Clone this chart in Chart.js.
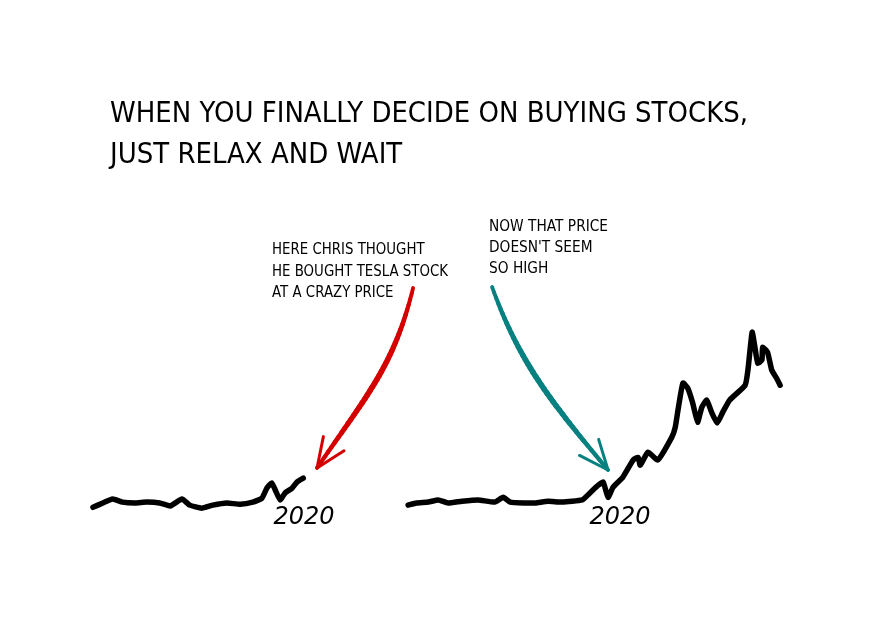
<!DOCTYPE html>
<html><head><meta charset="utf-8">
<script src="https://cdn.jsdelivr.net/npm/chart.js@4"></script>
<style>
html,body{margin:0;padding:0;background:#fff;}
#wrap{position:relative;width:876px;height:618px;overflow:hidden;background:#fff;}
canvas{position:absolute;left:0;top:0;}
.txt{position:absolute;font-family:"DejaVu Sans",sans-serif;color:#000;white-space:nowrap;transform-origin:0 0;}
.txt span{display:block;width:max-content;}
</style></head><body>
<div id="wrap">
<canvas id="c1" width="876" height="618"></canvas>
<canvas id="c2" width="876" height="618"></canvas>
<div id="title" class="txt" style="left:110px;top:92px;font-size:27.5px;line-height:41px;"><span>WHEN YOU FINALLY DECIDE ON BUYING STOCKS,</span><span>JUST RELAX AND WAIT</span></div>
<div id="ann1" class="txt" style="left:272px;top:238px;font-size:16px;line-height:21.5px;"><span>HERE CHRIS THOUGHT</span><span>HE BOUGHT TESLA STOCK</span><span>AT A CRAZY PRICE</span></div>
<div id="ann2" class="txt" style="left:489px;top:215px;font-size:16px;line-height:21px;"><span>NOW THAT PRICE</span><span>DOESN'T SEEM</span><span>SO HIGH</span></div>
</div>
<script>
// ---- data (year, split-adjusted price in USD) ----
const tickYears = [2020];

const leftYears  = [2016.99,2017.13,2017.27,2017.41,2017.59,2017.76,2017.94,2018.09,2018.26,2018.37,2018.54,2018.70,2018.90,2019.09,2019.27,2019.40,2019.47,2019.54,2019.59,2019.66,2019.73,2019.83,2019.90,2019.99];
const leftPrices = [12,22,31,24,22,24,22,15,31,17,10,17,22,19,24,33,56,68,52,29,45,56,70,79];

const rightYears  = [2016.97,2017.09,2017.26,2017.40,2017.54,2017.74,2017.97,2018.21,2018.33,2018.43,2018.64,2018.79,2018.97,2019.17,2019.46,2019.57,2019.69,2019.76,2019.83,2019.90,2020.04,2020.19,2020.26,2020.29,2020.40,2020.54,2020.74,2020.79,2020.83,2020.90,2020.97,2021.04,2021.11,2021.17,2021.24,2021.31,2021.39,2021.47,2021.57,2021.79,2021.83,2021.89,2021.93,2021.97,2022.03,2022.04,2022.11,2022.17,2022.24,2022.29];
const rightPrices = [17,22,24,29,22,26,29,24,35,24,22,22,26,24,29,45,63,70,35,58,81,121,127,109,139,121,173,196,236,298,286,252,208,242,259,231,206,231,259,293,328,415,380,344,351,380,369,328,309,293];

// annotation arrows: start, control 1, control 2, end (year, price)
const redArrowYears   = [2021.557,2021.283,2020.913,2020.186];
const redArrowPrices  = [516.7,338.1,273.2,102.5];
const tealArrowYears  = [2018.171,2018.560,2019.001,2019.829];
const tealArrowPrices = [519.0,346.0,256.7,97.9];

const arrowPlugin = {
  id:'curvedArrow',
  afterDatasetsDraw(chart, args, o){
    if(!o || !o.years) return;
    const ctx = chart.ctx, xs = chart.scales.x, ys = chart.scales.y;
    const P = o.years.map((v,i)=>[xs.getPixelForValue(v), ys.getPixelForValue(o.prices[i])]);
    const bez = t => {
      const u=1-t;
      return [u*u*u*P[0][0]+3*u*u*t*P[1][0]+3*u*t*t*P[2][0]+t*t*t*P[3][0],
              u*u*u*P[0][1]+3*u*u*t*P[1][1]+3*u*t*t*P[2][1]+t*t*t*P[3][1]];
    };
    ctx.save();
    ctx.strokeStyle = o.color; ctx.lineCap='round'; ctx.lineJoin='round';
    const N=40;
    for(let i=0;i<N;i++){
      const t0=i/N, t1=(i+1)/N;
      const a=bez(t0), b=bez(t1);
      ctx.lineWidth = 3 + 2.6*Math.sin(Math.PI*(t0*0.8+0.1));
      ctx.beginPath(); ctx.moveTo(a[0],a[1]); ctx.lineTo(b[0],b[1]); ctx.stroke();
    }
    const E=P[3], C=P[2];
    let dx=C[0]-E[0], dy=C[1]-E[1]; const L=Math.hypot(dx,dy); dx/=L; dy/=L;
    const ang=Math.atan2(dy,dx), spread=23*Math.PI/180, len=32;
    ctx.lineWidth=3;
    [ang-spread, ang+spread].forEach(a=>{
      ctx.beginPath(); ctx.moveTo(E[0],E[1]);
      ctx.lineTo(E[0]+len*Math.cos(a), E[1]+len*Math.sin(a)); ctx.stroke();
    });
    ctx.restore();
  }
};

function makeChart(id, xs, ys, xmin, xmax, padL, padR, arrow){
  return new Chart(document.getElementById(id), {
    type:'line',
    data:{ datasets:[{ data: xs.map((x,i)=>({x, y: ys[i]})), borderColor:'#000', borderWidth:5.5,
      pointRadius:0, tension:0.15, clip:false, borderCapStyle:'round', borderJoinStyle:'round' }]},
    options:{
      responsive:false, animation:false, devicePixelRatio:1,
      layout:{ padding:{ left:padL, right:padR, top:317, bottom:82 } },
      plugins:{ legend:{display:false}, tooltip:{enabled:false}, title:{display:false}, curvedArrow: arrow },
      scales:{
        x:{ type:'linear', min:xmin, max:xmax,
            grid:{display:false, drawTicks:false}, border:{display:false},
            afterBuildTicks: s => { s.ticks = tickYears.map(v=>({value:v})); },
            afterFit: s => { s.height = 30; },
            ticks:{ color:'#000', padding:0, maxRotation:0, autoSkip:false,
                    font:{ family:'"DejaVu Sans", sans-serif', size:24, style:'italic', lineHeight:1 },
                    callback: v => String(v) } },
        y:{ display:false, min:15, max:450 }
      }
    },
    plugins:[arrowPlugin]
  });
}

makeChart('c1', leftYears, leftPrices, 2016.99, 2020.30, 93, 551,
  { years: redArrowYears, prices: redArrowPrices, color:'#d40000' });
makeChart('c2', rightYears, rightPrices, 2016.94, 2022.36, 406, 91,
  { years: tealArrowYears, prices: tealArrowPrices, color:'#078080' });

function fit(id, idx, target){
  const el=document.getElementById(id);
  const w=el.querySelectorAll('span')[idx].getBoundingClientRect().width;
  el.style.transform='scaleX('+(target/w)+')';
}
fit('title',0,638);
fit('ann1',1,176);
fit('ann2',0,119);
</script>
</body></html>
